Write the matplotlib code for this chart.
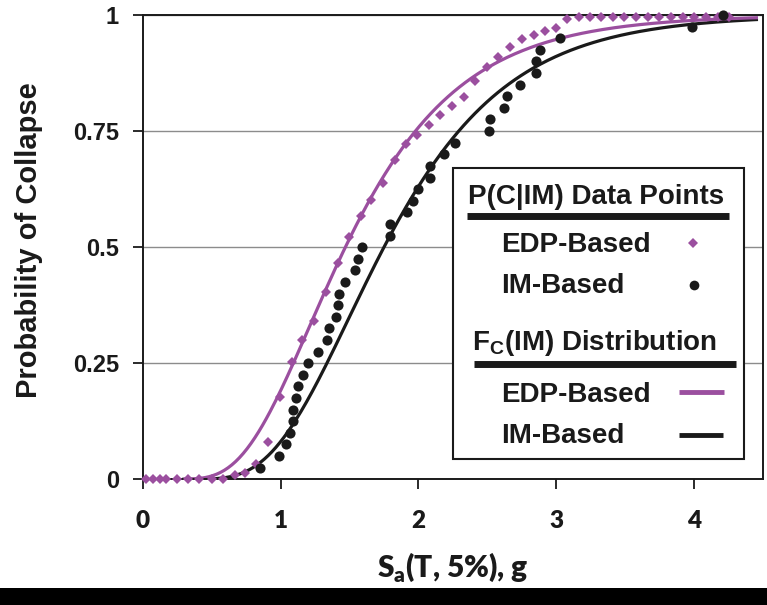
import math
import numpy as np
import matplotlib
matplotlib.use('Agg')
import matplotlib.pyplot as plt
from matplotlib.patches import Rectangle
from matplotlib.lines import Line2D

# P(C|IM) data points, EDP-based (diamonds)
edp_sa = [0.027, 0.075, 0.124, 0.172, 0.25, 0.33, 0.41, 0.50, 0.58, 0.667, 0.744, 0.823,
          0.91, 0.995, 1.08, 1.159, 1.241, 1.328, 1.417, 1.497, 1.581, 1.659, 1.743, 1.828,
          1.907, 1.989, 2.076, 2.159, 2.245, 2.327, 2.412, 2.496, 2.58, 2.665, 2.749, 2.834,
          2.919, 2.999, 3.075, 3.162, 3.24, 3.324, 3.408, 3.493, 3.578, 3.662, 3.747, 3.831,
          3.915, 4.0, 4.085, 4.169, 4.254]
edp_p = [0, 0, 0, 0, 0, 0, 0, 0, 0, 0.009, 0.013, 0.034,
         0.081, 0.178, 0.253, 0.301, 0.342, 0.403, 0.465, 0.521, 0.567, 0.602, 0.639, 0.688,
         0.722, 0.742, 0.763, 0.785, 0.803, 0.824, 0.858, 0.889, 0.910, 0.932, 0.948, 0.957,
         0.966, 0.973, 0.991, 0.995, 0.995, 0.995, 0.995, 0.995, 0.995, 0.995, 0.995, 0.995,
         0.995, 0.995, 0.995, 0.995, 0.995]

# P(C|IM) data points, IM-based (circles)
im_sa = [0.85, 0.988, 1.043, 1.067, 1.091, 1.091, 1.109, 1.127, 1.164, 1.196,
         1.272, 1.34, 1.352, 1.40, 1.417, 1.424, 1.466, 1.543, 1.562, 1.587,
         1.791, 1.796, 1.917, 1.96, 1.996, 2.086, 2.086, 2.182, 2.267, 2.508,
         2.52, 2.617, 2.641, 2.733, 2.849, 2.854, 2.878, 3.027, 3.983, 4.205]
im_p = [0.025, 0.05, 0.075, 0.1, 0.125, 0.15, 0.175, 0.2, 0.225, 0.25,
        0.275, 0.3, 0.325, 0.35, 0.375, 0.4, 0.425, 0.45, 0.475, 0.5,
        0.525, 0.55, 0.575, 0.6, 0.625, 0.65, 0.675, 0.7, 0.725, 0.75,
        0.775, 0.8, 0.825, 0.85, 0.875, 0.9, 0.925, 0.95, 0.975, 1.0]

# fitted lognormal Fc(IM): median and dispersion
edp_median, edp_beta = 1.47, 0.44
im_median, im_beta = 1.75, 0.40

xticks = [0, 1, 2, 3, 4]
yticks = [0, 0.25, 0.5, 0.75, 1]
ytick_labels = ['0', '0.25', '0.5', '0.75', '1']

purple = '#9b4f9f'
black = '#1a1a1a'


def lognorm_cdf(x, med, beta):
    return np.array([0.5 * (1 + math.erf(math.log(v / med) / (beta * math.sqrt(2)))) for v in x])


W, H = 767, 605
fig = plt.figure(figsize=(W / 100, H / 100), dpi=100)


def fx(px):
    return px / W


def fy(py):
    return 1 - py / H


ax = fig.add_axes([fx(142.6), fy(479.3), (763.3 - 142.6) / W, (479.3 - 15) / H])

sa = np.linspace(0.3, 4.45, 300)
ax.plot(sa, lognorm_cdf(sa, im_median, im_beta), color=black, lw=2.3, zorder=2)
ax.plot(sa, lognorm_cdf(sa, edp_median, edp_beta), color=purple, lw=2.3, zorder=2.1)
ax.plot(edp_sa, edp_p, 'D', color=purple, ms=4.8, mew=0, zorder=3, clip_on=False)
ax.plot(im_sa, im_p, 'o', color=black, ms=7.3, mew=0, zorder=4, clip_on=False)

ax.set_xlim(0, 4.5)
ax.set_ylim(0, 1)
ax.set_xticks(xticks)
ax.set_yticks(yticks)
ax.set_yticklabels(ytick_labels, fontfamily='Liberation Sans', fontweight='bold', fontsize=17)
ax.set_xticklabels([str(t) for t in xticks], fontfamily='Lato', fontweight=800, fontsize=17.5)
ax.tick_params(axis='y', direction='out', length=7, width=1.3, pad=10, colors=black)
ax.tick_params(axis='x', direction='out', length=7, width=1.3, pad=15, colors=black)
ax.grid(axis='y', color='#8c8c8c', lw=1)
ax.set_axisbelow(True)
for s in ax.spines.values():
    s.set_color(black)
    s.set_linewidth(1.4)

# axis titles
fig.text(fx(29), fy(240), 'Probability of Collapse', rotation=90, ha='center', va='center',
         fontfamily='Liberation Sans', fontweight='bold', fontsize=21, color=black)
fig.text(fx(453), fy(577), r'S$_\mathregular{a}$(T, 5%), g', ha='center', va='baseline',
         fontfamily='Lato', fontweight=800, fontsize=21.5, color=black)

# legend drawn by hand
fig.add_artist(Rectangle((fx(453), fy(459)), (744 - 453) / W, (459 - 168) / H,
                         transform=fig.transFigure, facecolor='white', edgecolor=black,
                         lw=1.5, zorder=5))
lab = dict(fontfamily='Liberation Sans', fontweight='bold', fontsize=20, color=black,
           va='baseline', ha='left', zorder=6)
fig.text(fx(468), fy(204), 'P(C|IM) Data Points', **lab)
fig.text(fx(501), fy(252), 'EDP-Based', **lab)
fig.text(fx(501), fy(293), 'IM-Based', **lab)
fig.text(fx(472), fy(350), r'F$_\mathregular{C}$(IM) Distribution', **lab)
fig.text(fx(501), fy(402), 'EDP-Based', **lab)
fig.text(fx(501), fy(443), 'IM-Based', **lab)
for x0, x1, y in [(467, 729, 216), (474, 736, 364)]:
    fig.add_artist(Line2D([fx(x0), fx(x1)], [fy(y), fy(y)], transform=fig.transFigure,
                          color=black, lw=5, solid_capstyle='butt', zorder=6))
fig.add_artist(Line2D([fx(693)], [fy(243)], transform=fig.transFigure, marker='D',
                      color=purple, ms=5, mew=0, zorder=6))
fig.add_artist(Line2D([fx(694)], [fy(285)], transform=fig.transFigure, marker='o',
                      color=black, ms=7, mew=0, zorder=6))
fig.add_artist(Line2D([fx(679), fx(724)], [fy(392), fy(392)], transform=fig.transFigure,
                      color=purple, lw=3.5, solid_capstyle='butt', zorder=6))
fig.add_artist(Line2D([fx(679), fx(723)], [fy(435), fy(435)], transform=fig.transFigure,
                      color=black, lw=3.5, solid_capstyle='butt', zorder=6))

# black strip at the bottom of the picture
fig.add_artist(Rectangle((0, 0), 1, (605 - 588) / H, transform=fig.transFigure,
                         facecolor='black', edgecolor='none', zorder=7))

fig.savefig('out.png', dpi=100)
